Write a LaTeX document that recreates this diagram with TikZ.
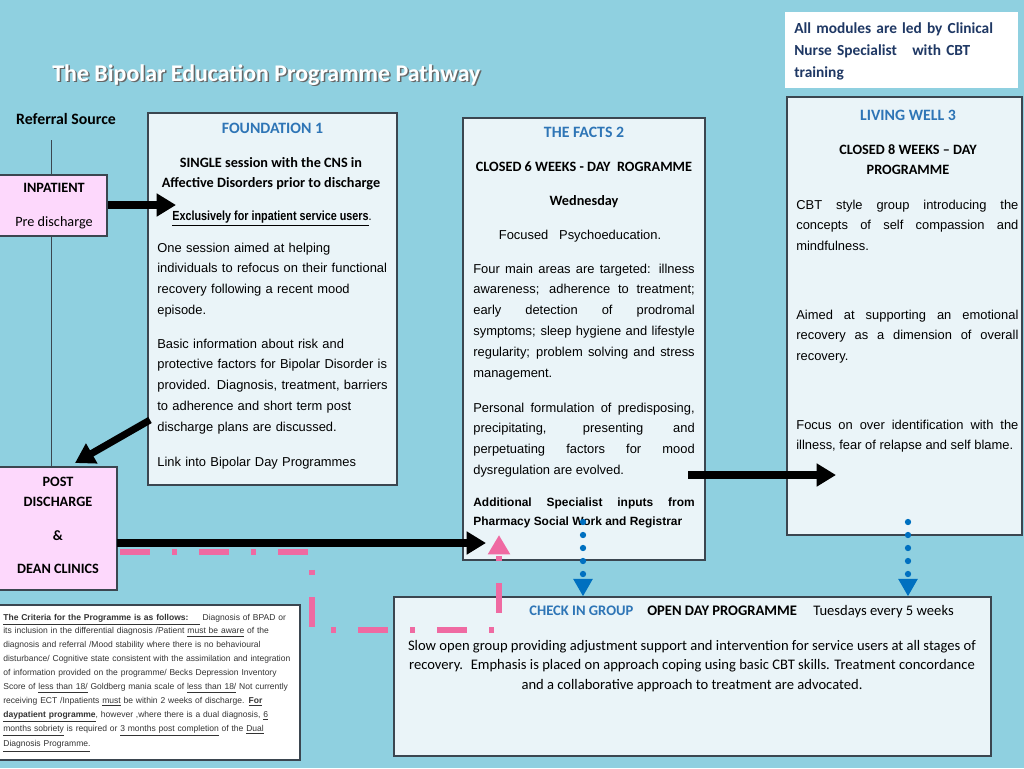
\documentclass[tikz,border=0pt]{standalone}
\usepackage{fontspec}
\setmainfont{Liberation Sans}
\newfontfamily\calibri{Carlito}
\newfontfamily\arialnarrow{Liberation Sans}[FakeStretch=0.82]
\usetikzlibrary{arrows.meta,positioning,fit}
\definecolor{sky}{HTML}{8FD0E0}
\definecolor{panelfill}{HTML}{EAF4F8}
\definecolor{edge}{HTML}{3B4650}
\definecolor{headblue}{HTML}{2E75B6}
\definecolor{navy}{HTML}{1F3864}
\definecolor{lilac}{HTML}{FDD8FC}
\definecolor{rose}{HTML}{EF6AA2}
\definecolor{dotblue}{HTML}{0070C0}
\newcommand{\bodyfont}{\fontsize{7.35}{11.9}\selectfont}
\newcommand{\headfont}{\calibri\bfseries\fontsize{8.1}{11.9}\selectfont}
\newcommand{\titlefont}{\calibri\bfseries\fontsize{9}{12}\selectfont}
\tikzset{panel/.style={draw=edge,line width=0.7pt,fill=panelfill,inner sep=0pt},
  source/.style={draw=edge,line width=0.7pt,fill=lilac,inner sep=0pt},
  txt/.style={inner sep=0pt,anchor=base west},
  ctxt/.style={inner sep=0pt,anchor=base},
  heading/.style={ctxt,font=\titlefont,text=headblue},
  para/.style={txt,font=\bodyfont,text width=126pt,align=justify},
  bigarr/.style={-{Triangle[length=11pt,width=12.5pt]},line width=4pt,black},
  dotarr/.style={-{Triangle[length=10pt,width=10.5pt]},line width=3.6pt,dotblue,line cap=round,dash pattern=on 0pt off 7.4pt},
  pinkarr/.style={-{Triangle[length=11pt,width=12pt]},line width=3.4pt,rose,dash pattern=on 17pt off 12.5pt on 3pt off 12.5pt}}
\begin{document}
\begin{tikzpicture}[x=0.02cm,y=-0.02cm]
\fill[sky] (0,0) rectangle (1024,768);
\useasboundingbox (0,0) rectangle (1024,768);
% title and note
\node[txt,font=\calibri\bfseries\fontsize{13.6}{14}\selectfont,text=black!60] (titleshade) at (53.5,82.5) {The Bipolar Education Programme Pathway};
\node[txt,font=\calibri\bfseries\fontsize{13.6}{14}\selectfont,text=white] (title) at (52,81) {The Bipolar Education Programme Pathway};
\node[fill=white,inner sep=0pt,fit={(785,12) (1018,88)}] (lead) {};
\node[txt,font=\calibri\bfseries\fontsize{8.75}{12.8}\selectfont,text=navy,text width=128pt,align=left] (leadtxt) at (794,33) {All modules are led by Clinical\\Nurse Specialist \ \ with CBT\\training};
% referral sources
\node[ctxt,font=\calibri\bfseries\fontsize{9}{11}\selectfont] (referral) at (66,124) {Referral Source};
\node[source,fit={(-1,175) (107,236)}] (inpat) {};
\node[ctxt,font=\headfont] (inpatA) at (54,192) {INPATIENT};
\node[ctxt,font=\calibri\fontsize{8.1}{10}\selectfont] (inpatB) at (54,226) {Pre discharge};
\node[source,fit={(-1,467) (117,590)}] (post) {};
\node[ctxt,font=\headfont] (postA) at (58,486) {POST};
\node[ctxt,font=\headfont] (postB) at (58,506) {DISCHARGE};
\node[ctxt,font=\headfont] (postC) at (58,540) {\&};
\node[ctxt,font=\headfont] (postD) at (58,573) {DEAN CLINICS};
\coordinate (refFoot) at (51,140);
\draw[edge,line width=0.5pt] (refFoot) -- (refFoot |- inpat.north);
\draw[edge,line width=0.5pt] (refFoot |- inpat.south) -- (refFoot |- post.north);
% foundation
\node[panel,fit={(148,113) (397,485)}] (found) {};
\node[heading] (foundT) at (272.5,133) {FOUNDATION 1};
\node[ctxt,font=\headfont,text width=140pt,align=flush center] (foundS) at (271,167) {SINGLE session with the CNS in\\Affective Disorders prior to discharge};
\node[ctxt,font=\arialnarrow\bfseries\fontsize{7.5}{10}\selectfont] (foundX) at (272,220) {\underline{Exclusively for inpatient service users}{\mdseries.}};
\node[para,align=left,text width=134pt] (foundP1) at (157,252) {One session aimed at helping\\individuals to refocus on their functional\\recovery following a recent mood\\episode.};
\node[para,align=left,text width=134pt] (foundP2) at (157,348) {Basic information about risk and\\protective factors for Bipolar Disorder is\\provided. Diagnosis, treatment, barriers\\to adherence and short term post\\discharge plans are discussed.};
\node[para,align=left,text width=134pt] (foundP3) at (157,466) {Link into Bipolar Day Programmes};
% the facts
\node[panel,fit={(463,118) (705,560)}] (facts) {};
\node[heading] (factsT) at (584,137) {THE FACTS 2};
\node[ctxt,font=\headfont] (factsS) at (584,171) {CLOSED 6 WEEKS - DAY \ ROGRAMME};
\node[ctxt,font=\headfont] (factsD) at (584,205) {Wednesday};
\node[ctxt,font=\bodyfont] (factsF) at (580,239) {Focused \ \ Psychoeducation.};
\node[para] (factsP1) at (473,273) {Four main areas are targeted: illness\linebreak awareness; adherence to treatment;\linebreak early detection of prodromal\linebreak symptoms; sleep hygiene and lifestyle\linebreak regularity; problem solving and stress\linebreak management.};
\node[para] (factsP2) at (473,412) {Personal formulation of predisposing,\linebreak precipitating, presenting and\linebreak perpetuating factors for mood\linebreak dysregulation are evolved.};
\node[para,font=\bfseries\fontsize{6.8}{11.3}\selectfont] (factsP3) at (473,506) {Additional Specialist inputs from\linebreak Pharmacy Social Work and Registrar};
% living well
\node[panel,fit={(787,97) (1022,535)}] (living) {};
\node[heading] (livingT) at (908,120) {LIVING WELL 3};
\node[ctxt,font=\headfont,text width=120pt,align=flush center] (livingS) at (908,154) {CLOSED 8 WEEKS – DAY\\PROGRAMME};
\node[para,text width=126.4pt] (livingP1) at (796,209) {CBT style group introducing the\linebreak concepts of self compassion and\linebreak mindfulness.};
\node[para,text width=126.4pt] (livingP2) at (796,319) {Aimed at supporting an emotional\linebreak recovery as a dimension of overall\linebreak recovery.};
\node[para,text width=126.4pt] (livingP3) at (796,429) {Focus on over identification with the\linebreak illness, fear of relapse and self blame.};
% check in group
\node[panel,fit={(394,597) (991,756)}] (check) {};
\node[txt,font=\calibri\bfseries\fontsize{8.3}{10}\selectfont,text=headblue] (checkA) at (529,615) {CHECK IN GROUP};
\node[txt,font=\calibri\bfseries\fontsize{8.3}{10}\selectfont] (checkB) at (647,615) {OPEN DAY PROGRAMME};
\node[txt,font=\calibri\fontsize{8.3}{10}\selectfont] (checkC) at (813,615) {Tuesdays every 5 weeks};
\node[ctxt,font=\calibri\fontsize{8.3}{11.3}\selectfont,text width=340pt,align=flush center] (checkP) at (692,650) {Slow open group providing adjustment support and intervention for service users at all stages of\\recovery. \ Emphasis is placed on approach coping using basic CBT skills. Treatment concordance\\and a collaborative approach to treatment are advocated.};
% criteria
\node[fill=white,draw=edge,line width=0.7pt,inner sep=0pt,fit={(-1,605) (300,760)}] (criteria) {};
\node[txt,font=\fontsize{4.85}{7.9}\selectfont,text=black!80,text width=170pt,align=left] (criteriaT) at (3,620) {\underline{\bfseries The Criteria for the Programme is as follows:\ \ \ \ }\ Diagnosis of BPAD or\\its inclusion in the differential diagnosis /Patient \underline{must be aware} of the\\diagnosis and referral /Mood stability where there is no behavioural\\disturbance/ Cognitive state consistent with the assimilation and integration\\of information provided on the programme/ Becks Depression Inventory\\Score of \underline{less than 18/} Goldberg mania scale of \underline{less than 18/} Not currently\\receiving ECT /Inpatients \underline{must} be within 2 weeks of discharge. \underline{\bfseries For}\\\underline{\bfseries daypatient programme}, however ,where there is a dual diagnosis, \underline{6}\\\underline{months sobriety} is required or \underline{3 months post completion} of the \underline{Dual}\\[1pt]\underline{Diagnosis Programme.}};
% arrows
\coordinate (foundIn) at (176,205);
\draw[bigarr] (inpat.east |- foundIn) -- (foundIn);
\coordinate (foundOut) at (150,420);
\coordinate (postIn) at (75,463);
\draw[bigarr] (foundOut) -- (postIn);
\coordinate (postOut) at (117,543);
\coordinate (factsIn) at (486,543);
\draw[bigarr] (postOut) -- (factsIn);
\coordinate (factsOut) at (688,475);
\coordinate (livingIn) at (836,475);
\draw[bigarr] (factsOut) -- (livingIn);
\coordinate (factsDrop) at (583,522);
\coordinate (livingDrop) at (908,522);
\draw[dotarr] (factsDrop) -- (factsDrop |- check.north);
\draw[dotarr] (livingDrop) -- (livingDrop |- check.north);
\coordinate (pinkStart) at (120,552);
\coordinate (pinkTip) at (499,535);
\draw[pinkarr] (pinkStart) -- (312,552) -- (312,630) -- (pinkTip |- 0,630) -- (pinkTip);
\end{tikzpicture}
\end{document}
